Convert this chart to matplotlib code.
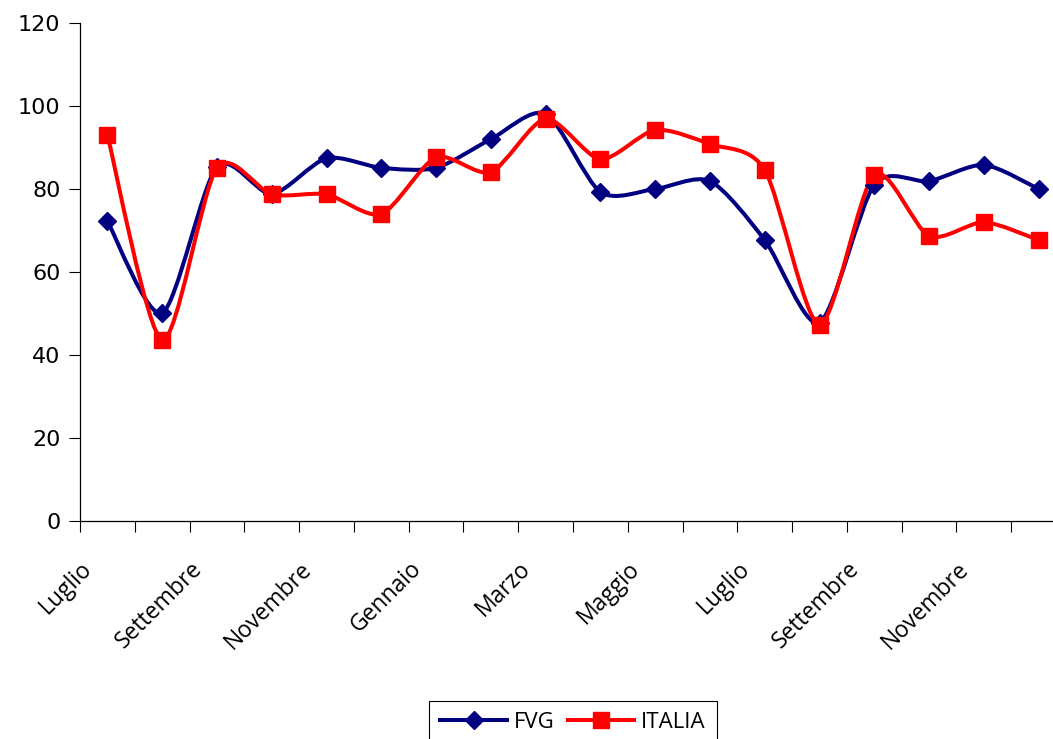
import matplotlib
matplotlib.use("Agg")
import matplotlib.pyplot as plt
from matplotlib.path import Path
from matplotlib.patches import PathPatch
from matplotlib.lines import Line2D
import matplotlib.transforms as mtransforms
import numpy as np

months = ["Luglio", "Agosto", "Settembre", "Ottobre", "Novembre", "Dicembre",
          "Gennaio", "Febbraio", "Marzo", "Aprile", "Maggio", "Giugno",
          "Luglio", "Agosto", "Settembre", "Ottobre", "Novembre", "Dicembre"]
fvg = [72.3, 50.1, 85.3, 78.8, 87.4, 85.1, 85.1, 92.0, 98.1, 79.3, 80.0, 81.9,
       67.7, 47.8, 81.0, 81.9, 85.8, 80.0]
italia = [93.0, 43.6, 85.1, 78.7, 78.7, 74.0, 87.6, 84.1, 96.9, 87.2, 94.2, 90.8,
          84.6, 47.3, 83.4, 68.7, 72.0, 67.7]

BLUE = "#000080"
RED = "#ff0000"


def smooth_path(x, y, k=0.8):
    # Excel-style smoothed line: cubic bezier segments through each point
    pts = np.column_stack([x, y]).astype(float)
    n = len(pts)
    verts = [pts[0]]
    codes = [Path.MOVETO]
    for i in range(n - 1):
        p0 = pts[i - 1] if i > 0 else pts[i]
        p1 = pts[i]
        p2 = pts[i + 1]
        p3 = pts[i + 2] if i + 2 < n else pts[i + 1]
        c1 = p1 + k * (p2 - p0) / 6.0
        c2 = p2 - k * (p3 - p1) / 6.0
        verts += [c1, c2, p2]
        codes += [Path.CURVE4] * 3
    return Path(verts, codes)


fig = plt.figure(figsize=(10.53, 7.39), dpi=100)
ax = fig.add_axes([80 / 1053, 1 - 521 / 739, 986 / 1053, 498 / 739])

x = np.arange(len(months))
for vals, col, mk, ms in [(fvg, BLUE, "D", 9), (italia, RED, "s", 11)]:
    ax.add_patch(PathPatch(smooth_path(x, vals), fill=False, edgecolor=col,
                           lw=2.9, capstyle="round", joinstyle="round", zorder=2))
    ax.plot(x, vals, linestyle="none", marker=mk, ms=ms, color=col, zorder=3)

ax.set_xlim(-0.5, len(months) - 0.5)
ax.set_ylim(0, 120)
ax.set_yticks(range(0, 121, 20))
ax.tick_params(axis="y", direction="out", length=8, width=0.8, labelsize=16, pad=6)

ax.set_xticks(np.arange(-0.5, len(months), 1.0))
ax.set_xticklabels([])
ax.tick_params(axis="x", direction="out", length=8, width=0.8)
for i in range(0, len(months), 2):
    off = mtransforms.ScaledTranslation(-0.27, -0.36, fig.dpi_scale_trans)
    ax.text(i, 0, months[i], rotation=45, ha="right", va="top",
            rotation_mode="anchor", fontsize=16.5, family="Open Sans",
            transform=ax.transData + off, clip_on=False)

for s in ["top", "right"]:
    ax.spines[s].set_visible(False)
for s in ["left", "bottom"]:
    ax.spines[s].set_linewidth(0.9)

handles = [Line2D([], [], color=BLUE, lw=2.9, marker="D", ms=9),
           Line2D([], [], color=RED, lw=2.9, marker="s", ms=11)]
leg = fig.legend(handles, ["FVG", "ITALIA"], loc="upper center",
                 bbox_to_anchor=(573 / 1053, 1 - 690 / 739), ncol=2,
                 fancybox=False, edgecolor="black", framealpha=1,
                 prop={"family": "Open Sans", "size": 16},
                 handlelength=3.0, columnspacing=0.6, handletextpad=0.3,
                 borderpad=0.5)
leg.get_frame().set_linewidth(0.8)

fig.savefig("out.png", dpi=100)
